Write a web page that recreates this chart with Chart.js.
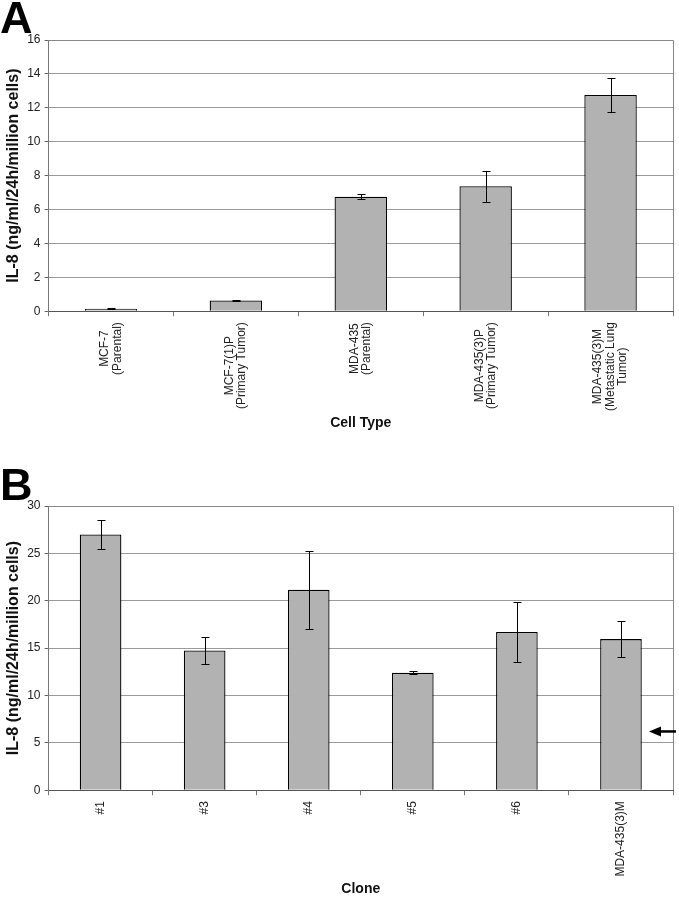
<!DOCTYPE html>
<html>
<head>
<meta charset="utf-8">
<script src="https://cdn.jsdelivr.net/npm/chart.js@4.4.1/dist/chart.umd.min.js"></script>
<style>
  html, body { margin: 0; padding: 0; background: #fff; }
  .panel { position: relative; width: 679px; }
  #panelA { height: 440px; }
  #panelB { height: 460px; }
</style>
</head>
<body>
<div class="panel" id="panelA"><canvas id="chartA"></canvas></div>
<div class="panel" id="panelB"><canvas id="chartB"></canvas></div>
<script>
// Panel A - IL-8 by cell type
const cellTypes = [
    ['MCF-7', '(Parental)'],
    ['MCF-7(1)P', '(Primary Tumor)'],
    ['MDA-435', '(Parental)'],
    ['MDA-435(3)P', '(Primary Tumor)'],
    ['MDA-435(3)M', '(Metastatic Lung', 'Tumor)']
];
const cellValues = [0.15, 0.63, 6.75, 7.37, 12.76];
const cellErrors = [0.02, 0.02, 0.14, 0.92, 0.98];

// Panel B - IL-8 by clone
const clones = [['#1'], ['#3'], ['#4'], ['#5'], ['#6'], ['MDA-435(3)M']];
const cloneValues = [27.0, 14.75, 21.15, 12.4, 16.7, 15.95];
const cloneErrors = [1.5, 1.45, 4.1, 0.15, 3.15, 1.9];
const arrowLevel = 6.2;

const FONT = "'Liberation Sans', Arial, sans-serif";
const yTitle = 'IL-8 (ng/ml/24h/million cells)';

// error bars, frame, rotated centred labels, panel letter, arrow
function makeDecor(cfg) {
    return {
        id: 'decor',
        afterDatasetsDraw(chart) {
            const { ctx, chartArea: a, scales: { y } } = chart;
            const meta = chart.getDatasetMeta(0);
            ctx.save();
            ctx.strokeStyle = '#000';
            ctx.lineWidth = 1;
            meta.data.forEach((bar, i) => {
                const v = cfg.values[i], e = cfg.errors[i];
                const top = Math.round(y.getPixelForValue(v + e)) + 0.5;
                const bot = Math.round(y.getPixelForValue(v - e)) + 0.5;
                const cx = Math.round(bar.x) + 0.5;
                ctx.beginPath();
                ctx.moveTo(cx, top); ctx.lineTo(cx, bot);
                ctx.moveTo(cx - 4, top); ctx.lineTo(cx + 4, top);
                ctx.moveTo(cx - 4, bot); ctx.lineTo(cx + 4, bot);
                ctx.stroke();
            });
            ctx.strokeStyle = '#888';
            ctx.beginPath();
            ctx.moveTo(a.left, Math.round(a.top) + 0.5);
            ctx.lineTo(Math.round(a.right) + 0.5, Math.round(a.top) + 0.5);
            ctx.lineTo(Math.round(a.right) + 0.5, a.bottom);
            ctx.stroke();
            ctx.restore();
        },
        afterDraw(chart) {
            const { ctx, chartArea: a, scales: { x, y } } = chart;
            ctx.save();
            // x labels, rotated, lines centred on each other
            ctx.font = '12px ' + FONT;
            ctx.fillStyle = '#222';
            ctx.textAlign = 'center';
            ctx.textBaseline = 'middle';
            const lh = 12.5;
            cfg.labels.forEach((lines, i) => {
                const px = x.getPixelForValue(i);
                const w = Math.max(...lines.map(t => ctx.measureText(t).width));
                const cy = a.bottom + 11 + w / 2;
                lines.forEach((t, j) => {
                    const lx = px + (j - (lines.length - 1) / 2) * lh;
                    ctx.save();
                    ctx.translate(lx, cy);
                    ctx.rotate(-Math.PI / 2);
                    ctx.fillText(t, 0, 0);
                    ctx.restore();
                });
            });
            // panel letter
            ctx.font = 'bold 45px ' + FONT;
            ctx.fillStyle = '#000';
            ctx.textAlign = 'left';
            ctx.textBaseline = 'alphabetic';
            ctx.fillText(cfg.letter, 0, cfg.letterY);
            // arrow
            if (cfg.arrow !== undefined) {
                const ay = y.getPixelForValue(cfg.arrow);
                const tip = a.right - 24;
                ctx.fillStyle = '#000';
                ctx.strokeStyle = '#000';
                ctx.lineWidth = 2.5;
                ctx.beginPath();
                ctx.moveTo(tip + 8, ay);
                ctx.lineTo(a.right + 3, ay);
                ctx.stroke();
                ctx.beginPath();
                ctx.moveTo(tip, ay);
                ctx.lineTo(tip + 12, ay - 5);
                ctx.lineTo(tip + 12, ay + 5);
                ctx.closePath();
                ctx.fill();
            }
            ctx.restore();
        }
    };
}

function makeChart(id, cfg) {
    const ctx = document.getElementById(id).getContext('2d');
    return new Chart(ctx, {
        type: 'bar',
        data: {
            labels: cfg.labels.map(l => l.join(' ')),
            datasets: [{
                data: cfg.values,
                backgroundColor: '#b2b2b2',
                borderColor: '#000',
                borderWidth: 1.3,
                barPercentage: cfg.barPct,
                categoryPercentage: 1.0
            }]
        },
        options: {
            responsive: true,
            maintainAspectRatio: false,
            animation: false,
            layout: { padding: { top: cfg.padTop, right: 6, bottom: cfg.padBottom, left: 0 } },
            plugins: { legend: { display: false }, tooltip: { enabled: false } },
            scales: {
                x: {
                    grid: { offset: true, drawOnChartArea: false, tickLength: 5, color: '#777' },
                    border: { color: '#555', width: 1 },
                    ticks: { display: false },
                    title: {
                        display: true,
                        text: cfg.xTitle,
                        color: '#111',
                        font: { family: FONT, size: 14, weight: 'bold' },
                        padding: { top: cfg.xTitlePad, bottom: 0 }
                    }
                },
                y: {
                    min: 0,
                    max: cfg.yMax,
                    ticks: {
                        stepSize: cfg.yStep,
                        color: '#222',
                        padding: 4,
                        font: { family: FONT, size: 12 }
                    },
                    grid: { color: '#9a9a9a', tickLength: 4, tickColor: '#666' },
                    border: { color: '#777' },
                    title: {
                        display: true,
                        text: yTitle,
                        color: '#111',
                        font: { family: FONT, size: 16, weight: 'bold' },
                        padding: { top: 4, bottom: 0 }
                    }
                }
            }
        },
        plugins: [makeDecor(cfg)]
    });
}

makeChart('chartA', {
    labels: cellTypes, values: cellValues, errors: cellErrors,
    yMax: 16, yStep: 2, barPct: 0.42, padTop: 40, padBottom: 8,
    xTitle: 'Cell Type', xTitlePad: 99, letter: 'A', letterY: 33
});

makeChart('chartB', {
    labels: clones, values: cloneValues, errors: cloneErrors,
    yMax: 30, yStep: 5, barPct: 0.40, padTop: 66, padBottom: 2,
    xTitle: 'Clone', xTitlePad: 86, letter: 'B', letterY: 60, arrow: arrowLevel
});
</script>
</body>
</html>
